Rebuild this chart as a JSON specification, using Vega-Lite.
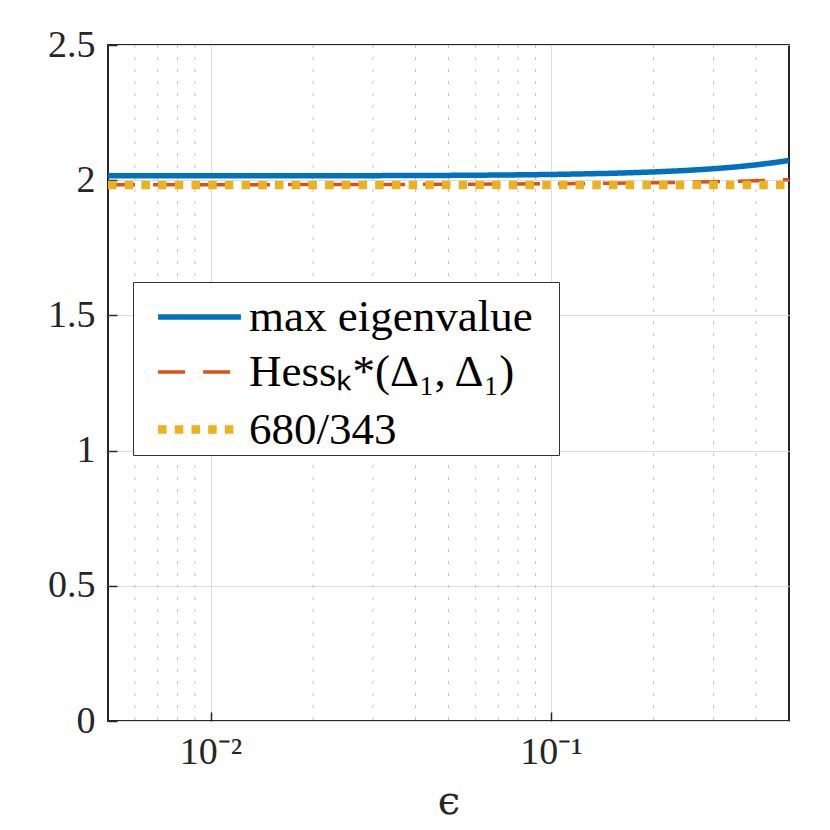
{
  "$schema": "https://vega.github.io/schema/vega-lite/v6.json",
  "autosize": "none",
  "width": 681,
  "height": 676,
  "padding": {"left": 108, "top": 45, "right": 41, "bottom": 109},
  "background": "white",
  "datasets": {
    "minor": [
      {"eps": 0.006}, {"eps": 0.007}, {"eps": 0.008}, {"eps": 0.009},
      {"eps": 0.02}, {"eps": 0.03}, {"eps": 0.04}, {"eps": 0.05},
      {"eps": 0.06}, {"eps": 0.07}, {"eps": 0.08}, {"eps": 0.09},
      {"eps": 0.2}, {"eps": 0.3}, {"eps": 0.4}
    ],
    "curves": [
      {"eps": 0.005, "val": 2.0161, "series": "max eigenvalue"},
      {"eps": 0.007, "val": 2.0161, "series": "max eigenvalue"},
      {"eps": 0.01, "val": 2.0162, "series": "max eigenvalue"},
      {"eps": 0.015, "val": 2.0163, "series": "max eigenvalue"},
      {"eps": 0.02, "val": 2.0165, "series": "max eigenvalue"},
      {"eps": 0.03, "val": 2.0168, "series": "max eigenvalue"},
      {"eps": 0.05, "val": 2.0178, "series": "max eigenvalue"},
      {"eps": 0.07, "val": 2.019, "series": "max eigenvalue"},
      {"eps": 0.1, "val": 2.0211, "series": "max eigenvalue"},
      {"eps": 0.15, "val": 2.0254, "series": "max eigenvalue"},
      {"eps": 0.2, "val": 2.0304, "series": "max eigenvalue"},
      {"eps": 0.25, "val": 2.0361, "series": "max eigenvalue"},
      {"eps": 0.3, "val": 2.0424, "series": "max eigenvalue"},
      {"eps": 0.35, "val": 2.0493, "series": "max eigenvalue"},
      {"eps": 0.4, "val": 2.0567, "series": "max eigenvalue"},
      {"eps": 0.45, "val": 2.0646, "series": "max eigenvalue"},
      {"eps": 0.5, "val": 2.073, "series": "max eigenvalue"},
      {"eps": 0.005, "val": 1.9832, "series": "Hessₖ*(Δ₁, Δ₁)"},
      {"eps": 0.01, "val": 1.9834, "series": "Hessₖ*(Δ₁, Δ₁)"},
      {"eps": 0.02, "val": 1.9838, "series": "Hessₖ*(Δ₁, Δ₁)"},
      {"eps": 0.05, "val": 1.9849, "series": "Hessₖ*(Δ₁, Δ₁)"},
      {"eps": 0.1, "val": 1.9868, "series": "Hessₖ*(Δ₁, Δ₁)"},
      {"eps": 0.15, "val": 1.9887, "series": "Hessₖ*(Δ₁, Δ₁)"},
      {"eps": 0.2, "val": 1.9906, "series": "Hessₖ*(Δ₁, Δ₁)"},
      {"eps": 0.25, "val": 1.9925, "series": "Hessₖ*(Δ₁, Δ₁)"},
      {"eps": 0.3, "val": 1.9944, "series": "Hessₖ*(Δ₁, Δ₁)"},
      {"eps": 0.35, "val": 1.9963, "series": "Hessₖ*(Δ₁, Δ₁)"},
      {"eps": 0.4, "val": 1.9982, "series": "Hessₖ*(Δ₁, Δ₁)"},
      {"eps": 0.45, "val": 2.0001, "series": "Hessₖ*(Δ₁, Δ₁)"},
      {"eps": 0.5, "val": 2.002, "series": "Hessₖ*(Δ₁, Δ₁)"},
      {"eps": 0.005, "val": 1.98251, "series": "680/343"},
      {"eps": 0.5, "val": 1.98251, "series": "680/343"}
    ]
  },
  "layer": [
    {
      "data": {"name": "minor"},
      "mark": {"type": "rule", "color": "#c4c4c4", "strokeWidth": 1, "strokeDash": [3, 9]},
      "encoding": {
        "x": {"field": "eps", "type": "quantitative", "scale": {"type": "log", "domain": [0.005, 0.5]}}
      }
    },
    {
      "data": {"name": "curves"},
      "mark": {"type": "line", "strokeCap": "butt", "clip": true},
      "encoding": {
        "x": {
          "field": "eps", "type": "quantitative",
          "scale": {"type": "log", "domain": [0.005, 0.5]},
          "title": "ϵ",
          "axis": {
            "values": [0.01, 0.1],
            "labelExpr": "datum.value < 0.05 ? '10⁻²' : '10⁻¹'",
            "titlePadding": 10,
            "titleFont": "DejaVu Serif"
          }
        },
        "y": {
          "field": "val", "type": "quantitative",
          "scale": {"domain": [0, 2.5]},
          "title": null,
          "axis": {"values": [0, 0.5, 1, 1.5, 2, 2.5], "format": "~g"}
        },
        "color": {
          "field": "series", "type": "nominal", "title": "\u00a0",
          "scale": {
            "domain": ["max eigenvalue", "Hessₖ*(Δ₁, Δ₁)", "680/343"],
            "range": ["#0072BD", "#D95319", "#EDB120"]
          }
        },
        "strokeDash": {
          "field": "series", "type": "nominal", "title": "\u00a0",
          "scale": {
            "domain": ["max eigenvalue", "Hessₖ*(Δ₁, Δ₁)", "680/343"],
            "range": [[1, 0], [27, 18], [8.5, 8.2]]
          }
        },
        "strokeWidth": {
          "field": "series", "type": "nominal", "title": "\u00a0",
          "scale": {
            "type": "ordinal",
            "domain": ["max eigenvalue", "Hessₖ*(Δ₁, Δ₁)", "680/343"],
            "range": [5.5, 3.5, 8.5]
          }
        }
      }
    }
  ],
  "config": {
    "font": "Liberation Serif",
    "view": {"stroke": "#262626", "strokeWidth": 2},
    "axis": {
      "domain": false,
      "grid": true,
      "gridColor": "#dedede",
      "gridWidth": 1,
      "ticks": true,
      "tickSize": -9,
      "tickColor": "#262626",
      "tickWidth": 1.5,
      "labelFont": "Liberation Serif",
      "labelFontSize": 38,
      "labelColor": "#262626",
      "titleFont": "Liberation Serif",
      "titleFontSize": 40,
      "titleFontWeight": "normal",
      "titleColor": "#262626"
    },
    "axisX": {"labelPadding": 21},
    "axisY": {"labelPadding": 22},
    "legend": {
      "orient": "none",
      "legendX": 25,
      "legendY": 237,
      "strokeColor": "#333333",
      "fillColor": "white",
      "padding": 2,
      "symbolOffset": 30,
      "symbolType": "M-1.38,0H1.38",
      "symbolFillColor": "transparent",
      "symbolSize": 3600,
      "labelFont": "Liberation Serif",
      "labelFontSize": 45,
      "labelColor": "black",
      "labelLimit": 600,
      "labelOffset": 15,
      "rowPadding": 0,
      "titleOrient": "right",
      "titlePadding": 24,
      "titleFontSize": 10
    }
  }
}
